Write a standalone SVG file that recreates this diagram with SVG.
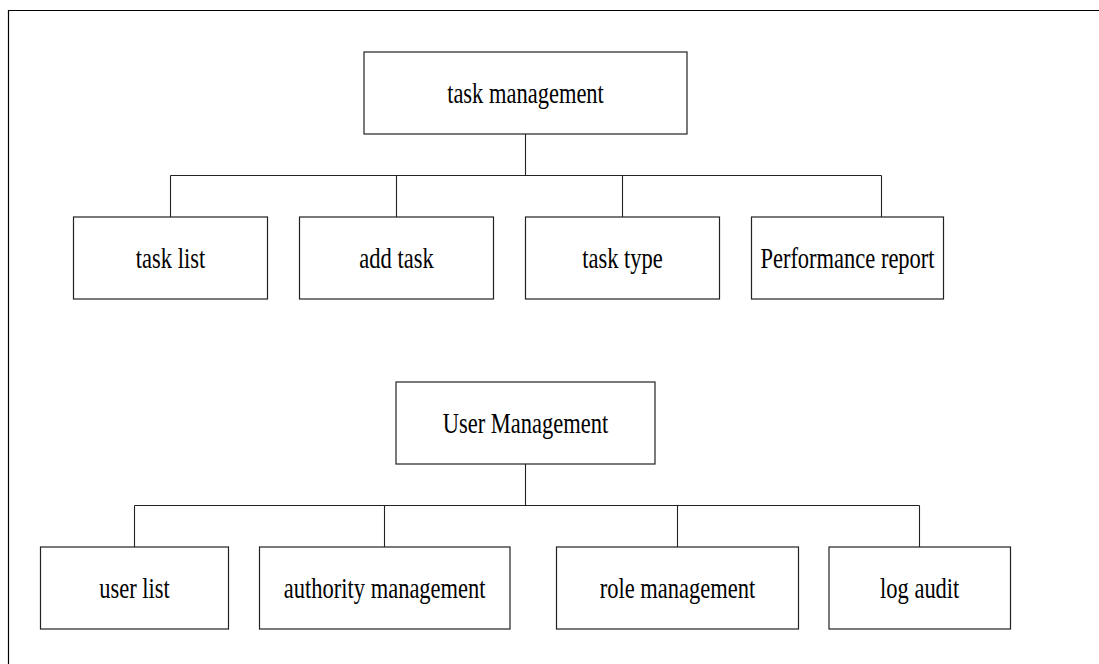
<svg xmlns="http://www.w3.org/2000/svg" width="1099" height="664" viewBox="0 0 1099 664">
  <style>
    .frame { fill: none; stroke: #000; stroke-width: 1.2; }
    .node rect { fill: #fff; stroke: #222; stroke-width: 1.2; }
    .node text { font-family: "Liberation Serif", "Times New Roman", serif; font-size: 22.5px; fill: #000; text-anchor: middle; }
    .links path { fill: none; stroke: #222; stroke-width: 1.1; }
  </style>
  <rect width="1099" height="664" fill="#fff"/>
  <!-- outer frame, open to the right and bottom -->
  <path class="frame" d="M8.5,664 V10.5 H1099"/>

  <g class="links">
    <!-- task management tree -->
    <path d="M525.5,134 V175.5"/>
    <path d="M170.5,175.5 H881.5"/>
    <path d="M170.5,175.5 V217"/>
    <path d="M396.5,175.5 V217"/>
    <path d="M622.5,175.5 V217"/>
    <path d="M881.5,175.5 V217"/>
    <!-- user management tree -->
    <path d="M525.5,464 V505.5"/>
    <path d="M134.5,505.5 H919.5"/>
    <path d="M134.5,505.5 V547"/>
    <path d="M384.5,505.5 V547"/>
    <path d="M677.5,505.5 V547"/>
    <path d="M919.5,505.5 V547"/>
  </g>

  <!-- labels use a tall, narrow letterform: stretched vertically -->
  <g id="task-management" class="node">
    <rect x="364" y="52" width="323" height="82"/>
    <text transform="translate(525.5,103) scale(1,1.27)">task management</text>
  </g>
  <g id="task-list" class="node">
    <rect x="73.5" y="217" width="194" height="82"/>
    <text transform="translate(170.5,268) scale(1,1.27)">task list</text>
  </g>
  <g id="add-task" class="node">
    <rect x="299.5" y="217" width="194" height="82"/>
    <text transform="translate(396.5,268) scale(1,1.27)">add task</text>
  </g>
  <g id="task-type" class="node">
    <rect x="525.5" y="217" width="194" height="82"/>
    <text transform="translate(622.5,268) scale(1,1.27)">task type</text>
  </g>
  <g id="performance-report" class="node">
    <rect x="751.5" y="217" width="192" height="82"/>
    <text transform="translate(847.5,268) scale(1,1.27)">Performance report</text>
  </g>

  <g id="user-management" class="node">
    <rect x="396" y="382" width="259" height="82"/>
    <text transform="translate(525.5,433) scale(1,1.27)">User Management</text>
  </g>
  <g id="user-list" class="node">
    <rect x="40.5" y="547" width="188" height="82"/>
    <text transform="translate(134.5,598) scale(1,1.27)">user list</text>
  </g>
  <g id="authority-management" class="node">
    <rect x="259.5" y="547" width="250.5" height="82"/>
    <text transform="translate(384.7,598) scale(1,1.27)">authority management</text>
  </g>
  <g id="role-management" class="node">
    <rect x="556.5" y="547" width="242" height="82"/>
    <text transform="translate(677.5,598) scale(1,1.27)">role management</text>
  </g>
  <g id="log-audit" class="node">
    <rect x="829" y="547" width="181.5" height="82"/>
    <text transform="translate(919.7,598) scale(1,1.27)">log audit</text>
  </g>
</svg>
